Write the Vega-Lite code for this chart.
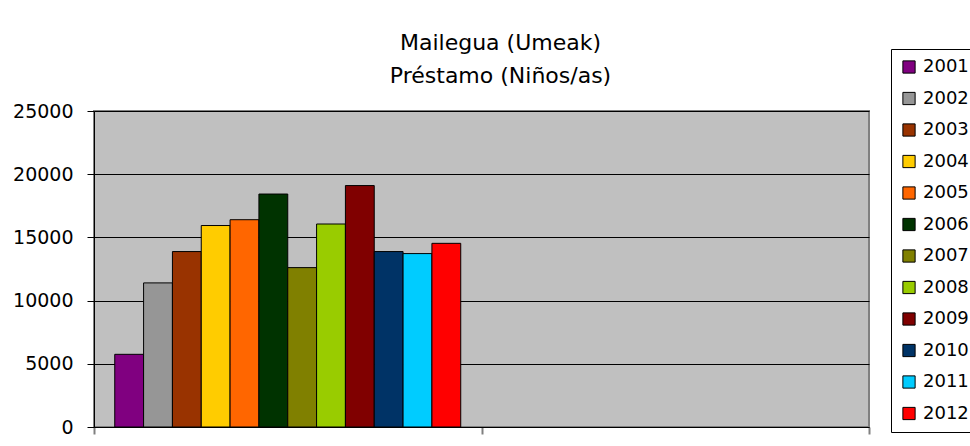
{
  "$schema": "https://vega.github.io/schema/vega-lite/v6.json",
  "autosize": "none",
  "width": 775,
  "height": 316,
  "padding": {"left": 94, "top": 111, "right": 101, "bottom": 19},
  "background": "white",
  "title": {
    "text": ["Mailegua (Umeak)", "Préstamo (Niños/as)"],
    "font": "DejaVu Sans",
    "fontSize": 22,
    "fontWeight": "normal",
    "color": "black",
    "lineHeight": 33,
    "anchor": "middle",
    "baseline": "top",
    "dx": 19,
    "dy": 39,
    "offset": 0
  },
  "data": {
    "values": [
      {"grupo": "1", "year": "2001", "value": 5750},
      {"grupo": "1", "year": "2002", "value": 11400},
      {"grupo": "1", "year": "2003", "value": 13880},
      {"grupo": "1", "year": "2004", "value": 15940},
      {"grupo": "1", "year": "2005", "value": 16400},
      {"grupo": "1", "year": "2006", "value": 18430},
      {"grupo": "1", "year": "2007", "value": 12610},
      {"grupo": "1", "year": "2008", "value": 16060},
      {"grupo": "1", "year": "2009", "value": 19100},
      {"grupo": "1", "year": "2010", "value": 13880},
      {"grupo": "1", "year": "2011", "value": 13720},
      {"grupo": "1", "year": "2012", "value": 14530}
    ]
  },
  "mark": {"type": "bar", "stroke": "black", "strokeWidth": 1},
  "encoding": {
    "x": {
      "field": "grupo",
      "type": "nominal",
      "scale": {"domain": ["1", "2"], "paddingInner": 0, "paddingOuter": 0},
      "axis": {
        "title": null,
        "labels": false,
        "tickBand": "extent",
        "tickSize": 7,
        "tickColor": "#808080",
        "tickWidth": 2,
        "domainColor": "black",
        "domainWidth": 1,
        "grid": false
      }
    },
    "xOffset": {
      "field": "year",
      "type": "nominal",
      "scale": {"paddingInner": 0, "paddingOuter": 0.72}
    },
    "y": {
      "field": "value",
      "type": "quantitative",
      "scale": {"domain": [0, 25000], "nice": false},
      "axis": {
        "title": null,
        "values": [0, 5000, 10000, 15000, 20000, 25000],
        "format": "d",
        "labelFont": "DejaVu Sans",
        "labelFontSize": 19,
        "labelColor": "black",
        "labelPadding": 14,
        "tickSize": 7,
        "tickColor": "black",
        "domainColor": "black",
        "grid": true,
        "gridColor": "black",
        "gridWidth": 1,
        "gridOpacity": 1
      }
    },
    "color": {
      "field": "year",
      "type": "nominal",
      "scale": {
        "domain": ["2001", "2002", "2003", "2004", "2005", "2006", "2007", "2008", "2009", "2010", "2011", "2012"],
        "range": ["#800080", "#969696", "#993300", "#FFCC00", "#FF6600", "#003300", "#808000", "#99CC00", "#800000", "#003366", "#00CCFF", "#FF0000"]
      },
      "legend": {
        "title": null,
        "orient": "none",
        "legendX": 797,
        "legendY": -62,
        "strokeColor": "black",
        "padding": 9,
        "symbolType": "square",
        "symbolSize": 150,
        "symbolStrokeColor": "black",
        "symbolStrokeWidth": 1,
        "symbolOpacity": 1,
        "labelFont": "DejaVu Sans",
        "labelFontSize": 18,
        "labelColor": "black",
        "labelOffset": 5,
        "rowPadding": 13.5
      }
    }
  },
  "config": {
    "view": {"fill": "#C0C0C0", "stroke": "#808080", "strokeWidth": 2}
  }
}
